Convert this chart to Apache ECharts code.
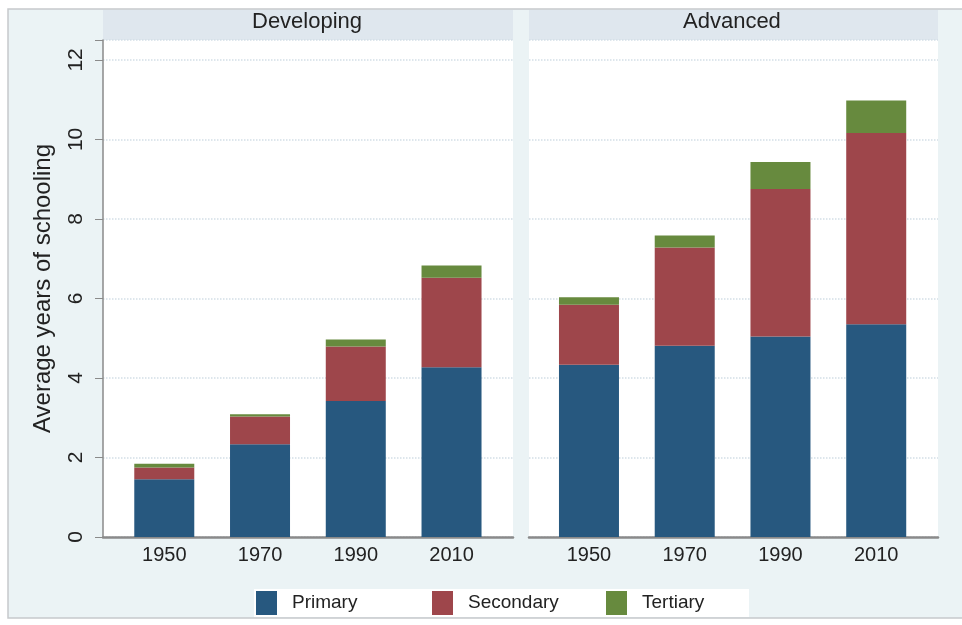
<!DOCTYPE html>
<html>
<head>
<meta charset="utf-8">
<title>Average years of schooling</title>
<script src="https://cdn.jsdelivr.net/npm/echarts@6/dist/echarts.min.js"></script>
<style>
    html, body { margin: 0; padding: 0; background: #fff; }
    #chart { width: 962px; height: 625px; }
</style>
</head>
<body>
<div id="chart"></div>
<script>
    var years = ['1950', '1970', '1990', '2010']
    var panels = ['Developing', 'Advanced']
    var levels = ['Primary', 'Secondary', 'Tertiary']
    var yTicks = [0, 2, 4, 6, 8, 10, 12]

    // developing economies
    var devPrimary = [1.45, 2.33, 3.42, 4.27]
    var devSecondary = [0.30, 0.70, 1.37, 2.25]
    var devTertiary = [0.09, 0.06, 0.18, 0.31]
    // advanced economies
    var advPrimary = [4.33, 4.81, 5.04, 5.35]
    var advSecondary = [1.51, 2.47, 3.71, 4.81]
    var advTertiary = [0.19, 0.30, 0.68, 0.82]

    var colors = ['#27587f', '#9e464b', '#678a3e']
    var font = '"Liberation Sans", Arial, sans-serif'
    var yMax = 12.5

    var chart = echarts.init(document.getElementById('chart'))

    function frameY(idx, showLabels) {
        return {
            gridIndex: idx, type: 'value', min: 0, max: yMax, interval: 2,
            axisLine: { show: showLabels, lineStyle: { color: '#8a8a8a', width: 1.5 } },
            axisTick: { show: showLabels, length: 8, lineStyle: { color: '#8a8a8a' } },
            axisLabel: {
                show: showLabels, rotate: 90, margin: 16, fontSize: 21,
                color: '#222', fontFamily: font,
                formatter: function (v) { return yTicks.indexOf(v) >= 0 ? String(v) : '' }
            },
            splitLine: { show: true, lineStyle: { color: '#d3dee6', type: 'dotted', width: 1.5 } },
            name: showLabels ? 'Average years of schooling' : '',
            nameLocation: 'middle', nameRotate: 90, nameGap: 48,
            nameTextStyle: { fontSize: 24, color: '#222', fontFamily: font }
        }
    }
    function barY(idx) {
        return { gridIndex: idx, type: 'value', min: 0, max: yMax, show: false }
    }
    function frameX(idx) {
        return {
            gridIndex: idx, type: 'value', min: 0, max: 1,
            axisLine: { show: true, lineStyle: { color: '#8a8a8a', width: 2.5 } },
            axisTick: { show: false }, axisLabel: { show: false }, splitLine: { show: false }
        }
    }
    function barX(idx) {
        return {
            gridIndex: idx, type: 'category', data: years,
            axisLine: { show: false }, axisTick: { show: false },
            axisLabel: { fontSize: 20, color: '#222', fontFamily: font, margin: 8 }
        }
    }
    function bar(name, data, xi, stack, color) {
        return {
            name: name, type: 'bar', stack: stack, data: data,
            xAxisIndex: xi, yAxisIndex: xi, barWidth: 60,
            itemStyle: { color: color }, z: 5
        }
    }
    function legendItem(name, left) {
        return {
            left: left, top: 591, padding: 0,
            itemWidth: 21, itemHeight: 24, icon: 'rect',
            data: [name],
            textStyle: { fontSize: 19, color: '#222', fontFamily: font, padding: [0, 0, 0, 10] }
        }
    }

    var option = {
        backgroundColor: '#fff',
        animation: false,
        graphic: [
            { type: 'rect', z: -10, shape: { x: 8, y: 9, width: 970, height: 609 },
              style: { fill: '#ebf3f5', stroke: '#c6c9cb', lineWidth: 1.5 } },
            { type: 'rect', z: -5, shape: { x: 103, y: 10, width: 410, height: 30 }, style: { fill: '#dfe7ee' } },
            { type: 'rect', z: -5, shape: { x: 529, y: 10, width: 409, height: 30 }, style: { fill: '#dfe7ee' } },
            { type: 'rect', z: -5, shape: { x: 254, y: 589, width: 495, height: 28 }, style: { fill: '#fff' } },
            { type: 'text', left: 252, top: 11, style: { text: panels[0], font: '22px ' + font, fill: '#222' } },
            { type: 'text', left: 683, top: 11, style: { text: panels[1], font: '22px ' + font, fill: '#222' } }
        ],
        grid: [
            { left: 103, top: 40, width: 410, height: 497, show: true, backgroundColor: '#fff', borderWidth: 0 },
            { left: 116.4, top: 40, width: 383, height: 497 },
            { left: 529, top: 40, width: 409, height: 497, show: true, backgroundColor: '#fff', borderWidth: 0 },
            { left: 541.1, top: 40, width: 383, height: 497 }
        ],
        xAxis: [frameX(0), barX(1), frameX(2), barX(3)],
        yAxis: [frameY(0, true), barY(1), frameY(2, false), barY(3)],
        legend: [
            legendItem(levels[0], 256),
            legendItem(levels[1], 432),
            legendItem(levels[2], 606)
        ],
        series: [
            bar(levels[0], devPrimary, 1, 'dev', colors[0]),
            bar(levels[1], devSecondary, 1, 'dev', colors[1]),
            bar(levels[2], devTertiary, 1, 'dev', colors[2]),
            bar(levels[0], advPrimary, 3, 'adv', colors[0]),
            bar(levels[1], advSecondary, 3, 'adv', colors[1]),
            bar(levels[2], advTertiary, 3, 'adv', colors[2])
        ]
    }
    chart.setOption(option)
</script>
</body>
</html>
